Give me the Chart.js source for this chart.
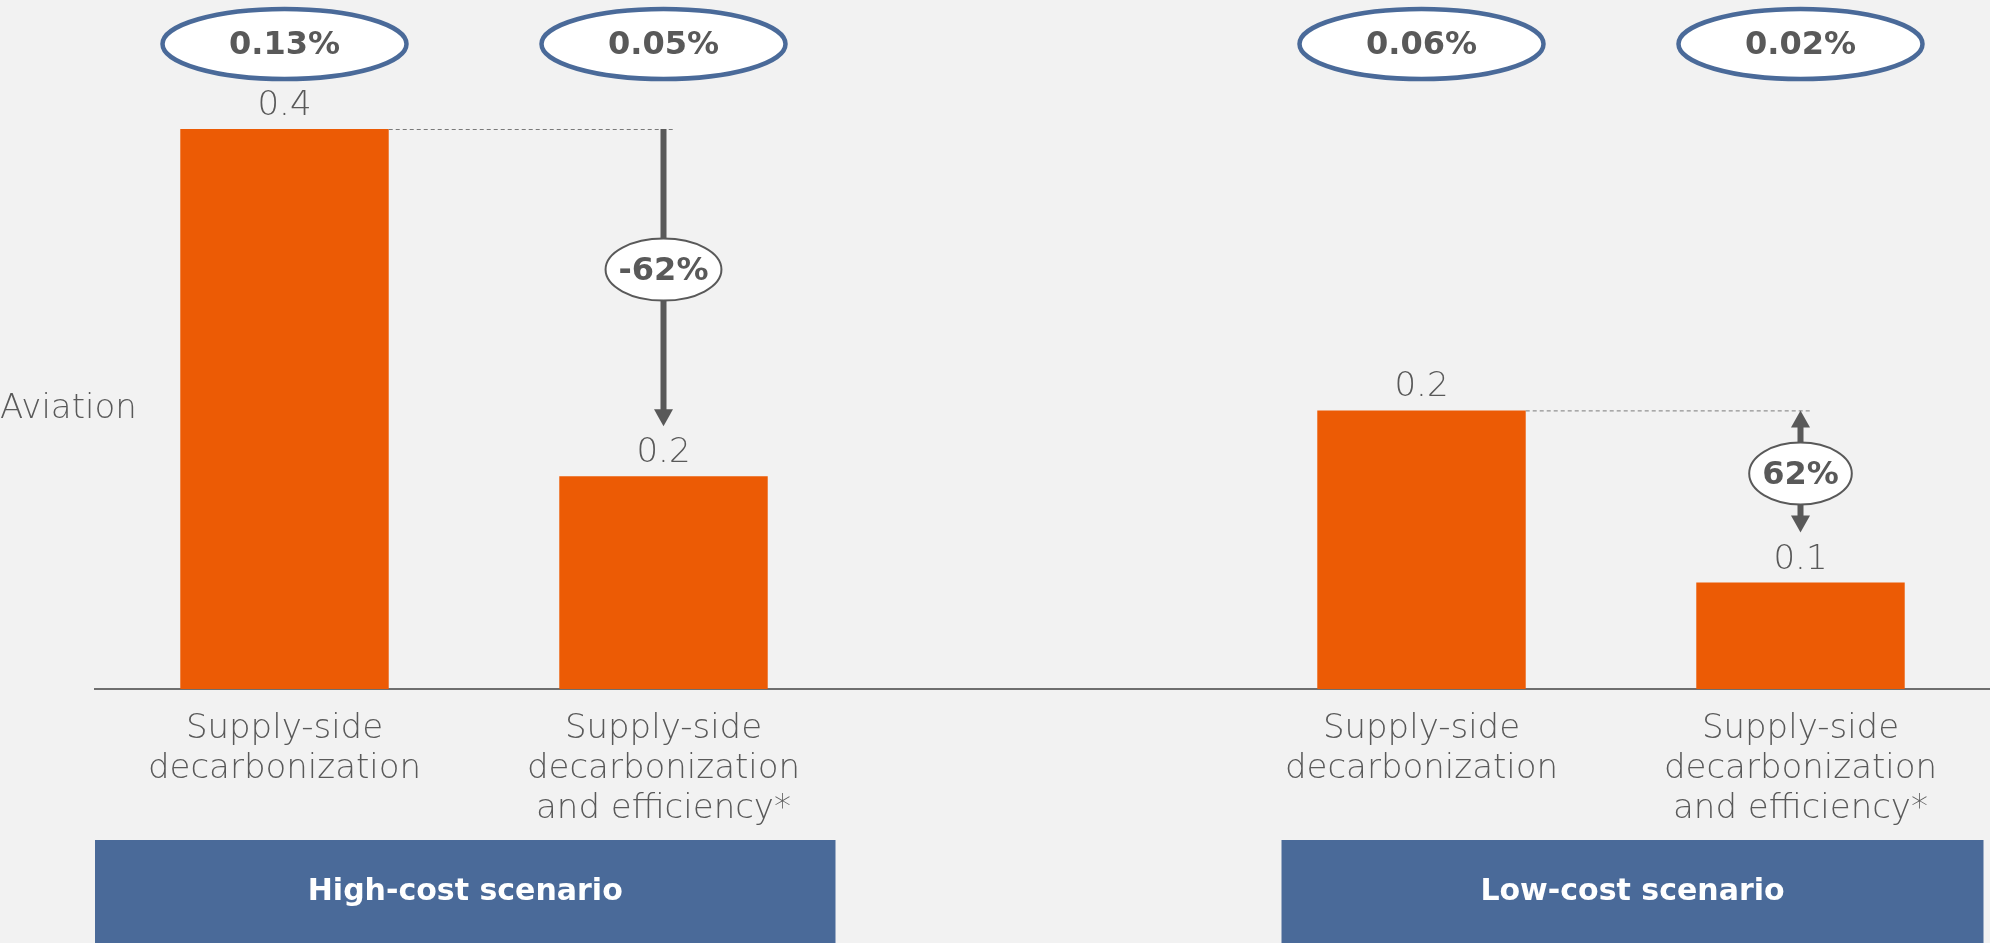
<!DOCTYPE html>
<html>
<head>
<meta charset="utf-8">
<title>Aviation</title>
<script src="https://cdn.jsdelivr.net/npm/chart.js@4.4.1/dist/chart.umd.min.js"></script>
<style>
  html, body { margin: 0; padding: 0; background: #F2F2F2; }
  #wrap { position: relative; width: 1990px; height: 943px; }
</style>
</head>
<body>
<div id="wrap"><canvas id="chart"></canvas></div>
<script>
// bars: two per scenario, empty slot in the middle as a spacer
const categories = [
  ['Supply-side', 'decarbonization'],
  ['Supply-side', 'decarbonization', 'and efficiency*'],
  '',
  ['Supply-side', 'decarbonization'],
  ['Supply-side', 'decarbonization', 'and efficiency*']
];
const values = [0.4, 0.152, null, 0.199, 0.076];
const shares = ['0.13%', '0.05%', '', '0.06%', '0.02%'];

const changeFrom = [0, 3];
const changeTo = [1, 4];
const changeLabels = ['-62%', '62%'];
const changeTwoHeads = [false, true];

const scenarioLabels = ['High-cost scenario', 'Low-cost scenario'];
const scenarioFirst = [0, 3];
const scenarioLast = [1, 4];

const rowLabel = 'Aviation';

const GREY = '#595959';
const ORANGE = '#EC5B05';
const BLUE = '#4A6A99';
const FONT = '"DejaVu Sans", sans-serif';

function arrowHead(ctx, x, tipY, dir) {
  ctx.beginPath();
  ctx.moveTo(x, tipY);
  ctx.lineTo(x - 9.5, tipY - dir * 17);
  ctx.lineTo(x + 9.5, tipY - dir * 17);
  ctx.closePath();
  ctx.fill();
}

const extras = {
  id: 'extras',
  afterDatasetsDraw(chart) {
    const ctx = chart.ctx;
    const xs = chart.scales.x;
    const area = chart.chartArea;
    const bars = chart.getDatasetMeta(0).data;
    ctx.save();

    // value labels above bars
    ctx.fillStyle = GREY;
    ctx.textAlign = 'center';
    ctx.textBaseline = 'alphabetic';
    ctx.font = '200 34px ' + FONT;
    values.forEach((v, i) => {
      if (v == null) return;
      ctx.fillText(v.toFixed(1), bars[i].x, bars[i].y - 14);
    });

    // share ellipses along the top
    shares.forEach((s, i) => {
      if (!s) return;
      const cx = xs.getPixelForValue(i);
      ctx.beginPath();
      ctx.ellipse(cx, 44, 122, 35, 0, 0, Math.PI * 2);
      ctx.fillStyle = '#FFFFFF';
      ctx.fill();
      ctx.lineWidth = 4.5;
      ctx.strokeStyle = BLUE;
      ctx.stroke();
      ctx.fillStyle = GREY;
      ctx.font = 'bold 32px ' + FONT;
      ctx.textBaseline = 'middle';
      ctx.fillText(s, cx, 46);
    });

    // change arrows between the two bars of each scenario
    changeFrom.forEach((a, k) => {
      const b = changeTo[k];
      const top = bars[a].y;
      const x = bars[b].x;
      const tip = bars[b].y - 50;

      ctx.setLineDash([4, 3]);
      ctx.lineWidth = 1;
      ctx.strokeStyle = '#7A7A7A';
      ctx.beginPath();
      ctx.moveTo(bars[a].x + bars[a].width / 2, top + 0.5);
      ctx.lineTo(x + 10, top + 0.5);
      ctx.stroke();
      ctx.setLineDash([]);

      ctx.fillStyle = GREY;
      ctx.strokeStyle = GREY;
      ctx.lineWidth = 6;
      ctx.beginPath();
      ctx.moveTo(x, changeTwoHeads[k] ? top + 16 : top);
      ctx.lineTo(x, tip - 16);
      ctx.stroke();
      arrowHead(ctx, x, tip, 1);
      if (changeTwoHeads[k]) arrowHead(ctx, x, top, -1);

      const cy = (top + tip) / 2 + (changeTwoHeads[k] ? 2 : -8);
      ctx.font = 'bold 32px ' + FONT;
      const rx = ctx.measureText(changeLabels[k]).width / 2 + 13;
      ctx.beginPath();
      ctx.ellipse(x, cy, rx, 31, 0, 0, Math.PI * 2);
      ctx.fillStyle = '#FFFFFF';
      ctx.fill();
      ctx.lineWidth = 2;
      ctx.strokeStyle = GREY;
      ctx.stroke();
      ctx.fillStyle = GREY;
      ctx.textBaseline = 'middle';
      ctx.fillText(changeLabels[k], x, cy + 2);
    });

    // row label on the left
    ctx.textAlign = 'left';
    ctx.textBaseline = 'middle';
    ctx.font = '200 34px ' + FONT;
    ctx.fillText(rowLabel, 0, (area.top + area.bottom) / 2);

    // scenario boxes at the bottom
    const boxTop = area.bottom + 151;
    scenarioLabels.forEach((label, k) => {
      const left = k === 0 ? area.left : xs.getPixelForValue(scenarioFirst[k]) - 140;
      const right = xs.getPixelForValue(scenarioLast[k]) + (k === 0 ? 172 : 183);
      ctx.fillStyle = BLUE;
      ctx.fillRect(left, boxTop, right - left, chart.height - boxTop);
      ctx.fillStyle = '#FFFFFF';
      ctx.textAlign = 'center';
      ctx.font = 'bold 30px ' + FONT;
      ctx.fillText(label, (left + right) / 2, (boxTop + chart.height) / 2 + 1);
    });

    ctx.restore();
  }
};

new Chart(document.getElementById('chart'), {
  type: 'bar',
  data: {
    labels: categories,
    datasets: [{
      data: values,
      backgroundColor: ORANGE,
      borderWidth: 0,
      barPercentage: 0.55,
      categoryPercentage: 1
    }]
  },
  options: {
    responsive: true,
    maintainAspectRatio: false,
    animation: false,
    layout: { padding: { top: 129, left: 95, right: 0, bottom: 0 } },
    plugins: { legend: { display: false }, tooltip: { enabled: false } },
    scales: {
      x: {
        grid: { display: false },
        border: { display: true, color: '#6F6F6F', width: 2 },
        ticks: {
          color: GREY,
          padding: 12,
          maxRotation: 0,
          autoSkip: false,
          font: { family: FONT, size: 34, weight: '200', lineHeight: 1.18 }
        },
        afterFit(scale) { scale.height = 254; }
      },
      y: {
        display: false,
        min: 0,
        max: 0.4
      }
    }
  },
  plugins: [extras]
});
</script>
</body>
</html>
